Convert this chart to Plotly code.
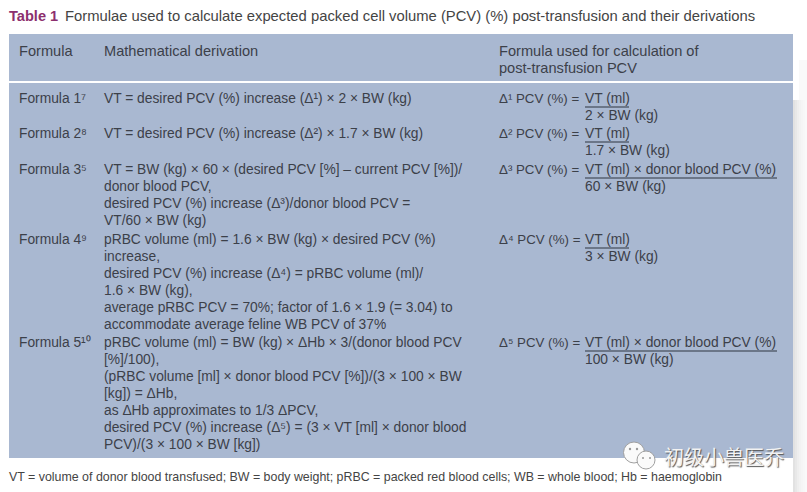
import plotly.graph_objects as go

# table text
title_label = 'Table 1'
title_text = 'Formulae used to calculate expected packed cell volume (PCV) (%) post-transfusion and their derivations'
headers = ['Formula', 'Mathematical derivation', 'Formula used for calculation of<br>post-transfusion PCV']
formula_names = ['Formula 1⁷', 'Formula 2⁸', 'Formula 3⁵', 'Formula 4⁹', 'Formula 5¹⁰']
derivations = [
    'VT = desired PCV (%) increase (Δ¹) × 2 × BW (kg)',
    'VT = desired PCV (%) increase (Δ²) × 1.7 × BW (kg)',
    'VT = BW (kg) × 60 × (desired PCV [%] – current PCV [%])/<br>donor blood PCV,<br>desired PCV (%) increase (Δ³)/donor blood PCV =<br>VT/60 × BW (kg)',
    'pRBC volume (ml) = 1.6 × BW (kg) × desired PCV (%)<br>increase,<br>desired PCV (%) increase (Δ⁴) = pRBC volume (ml)/<br>1.6 × BW (kg),<br>average pRBC PCV = 70%; factor of 1.6 × 1.9 (= 3.04) to<br>accommodate average feline WB PCV of 37%',
    'pRBC volume (ml) = BW (kg) × ΔHb × 3/(donor blood PCV<br>[%]/100),<br>(pRBC volume [ml] × donor blood PCV [%])/(3 × 100 × BW<br>[kg]) = ΔHb,<br>as ΔHb approximates to 1/3 ΔPCV,<br>desired PCV (%) increase (Δ⁵) = (3 × VT [ml] × donor blood<br>PCV)/(3 × 100 × BW [kg])',
]
results = ['Δ¹ PCV (%) =', 'Δ² PCV (%) =', 'Δ³ PCV (%) =', 'Δ⁴ PCV (%) =', 'Δ⁵ PCV (%) =']
numerators = ['VT (ml)', 'VT (ml)', 'VT (ml) × donor blood PCV (%)', 'VT (ml)', 'VT (ml) × donor blood PCV (%)']
denominators = ['2 × BW (kg)', '1.7 × BW (kg)', '60 × BW (kg)', '3 × BW (kg)', '100 × BW (kg)']
footnote = 'VT = volume of donor blood transfused; BW = body weight; pRBC = packed red blood cells; WB = whole blood; Hb = haemoglobin'
watermark = '初级小兽医乔'

FONT = 'Liberation Sans'
INK = '#3c4049'
BLUE = '#a9b8d1'
LINE_STEP = 17

# layout positions, in page pixels
row_tops = [90, 125, 161, 231, 334]
rule_ends = [629, 629, 777, 629, 777]


def text(x, y, s, size=13.8, color=INK):
    # one annotation per line, the source leading is tighter than plotly's own
    for n, line in enumerate(s.split('<br>')):
        fig.add_annotation(x=x, y=y + n * LINE_STEP, text=line, xanchor='left', yanchor='top', align='left',
                           showarrow=False, borderpad=0, font=dict(family=FONT, size=size, color=color))


fig = go.Figure()

# panel, header gap and the soft shadow on the right
fig.add_shape(type='rect', x0=9, x1=793, y0=34, y1=458, fillcolor=BLUE, line_width=0, layer='below')
fig.add_shape(type='rect', x0=9, x1=793, y0=81, y1=83, fillcolor='white', line_width=0, layer='below')
fig.add_shape(type='rect', x0=799, x1=807, y0=60, y1=100, fillcolor='#f9f9f9', line_width=0, layer='below')
for i, shade in enumerate(['#e2e2e2', '#e8e8e8', '#eeeeee', '#f2f2f2', '#f5f5f5', '#f7f7f7', '#f9f9f9']):
    fig.add_shape(type='rect', x0=793 + i * 2, x1=795 + i * 2, y0=100, y1=492, fillcolor=shade, line_width=0, layer='below')

text(8, 7, '<b>' + title_label + '</b>', size=14.6, color='#8c2f6e')
text(64, 7, title_text, size=14.8, color='#444444')
text(18, 42, headers[0], size=14.6)
text(103, 42, headers[1], size=14.6)
text(498, 42, headers[2], size=14.6)

for i, top in enumerate(row_tops):
    text(18, top, formula_names[i])
    text(103, top, derivations[i])
    text(498, top, results[i], size=13.3)
    text(584, top, numerators[i])
    text(584, top + 17, denominators[i])
    fig.add_shape(type='line', x0=585, x1=rule_ends[i], y0=top + 17, y1=top + 17, line=dict(color='#2f3540', width=1.2))

text(8, 469, footnote, size=12.4, color='#444444')

# watermark
for cx, cy, r in [(634, 452.5, 10.5), (646, 460, 9)]:
    fig.add_shape(type='circle', x0=cx - r, x1=cx + r, y0=cy - r, y1=cy + r, fillcolor='#fafafa', line=dict(color='#a0a0a0', width=1))
for cx, cy, r in [(630, 449, 1.2), (637, 449, 1.2), (643, 458, 1), (650, 458, 1)]:
    fig.add_shape(type='circle', x0=cx - r, x1=cx + r, y0=cy - r, y1=cy + r, fillcolor='#999999', line_width=0)
fig.add_annotation(x=662, y=456, text=watermark, xanchor='left', yanchor='middle', showarrow=False,
                   font=dict(family='Noto Sans CJK SC', size=20, color='#f2f2f2', shadow='1px 1px 1px #555555'))

fig.update_xaxes(range=[0, 807], visible=False)
fig.update_yaxes(range=[492, 0], visible=False)
fig.update_layout(width=807, height=492, margin=dict(l=0, r=0, t=0, b=0), plot_bgcolor='white', paper_bgcolor='white')
fig.write_html("out.html", config=dict(displayModeBar=False), post_script="document.body.style.margin = '0';")
